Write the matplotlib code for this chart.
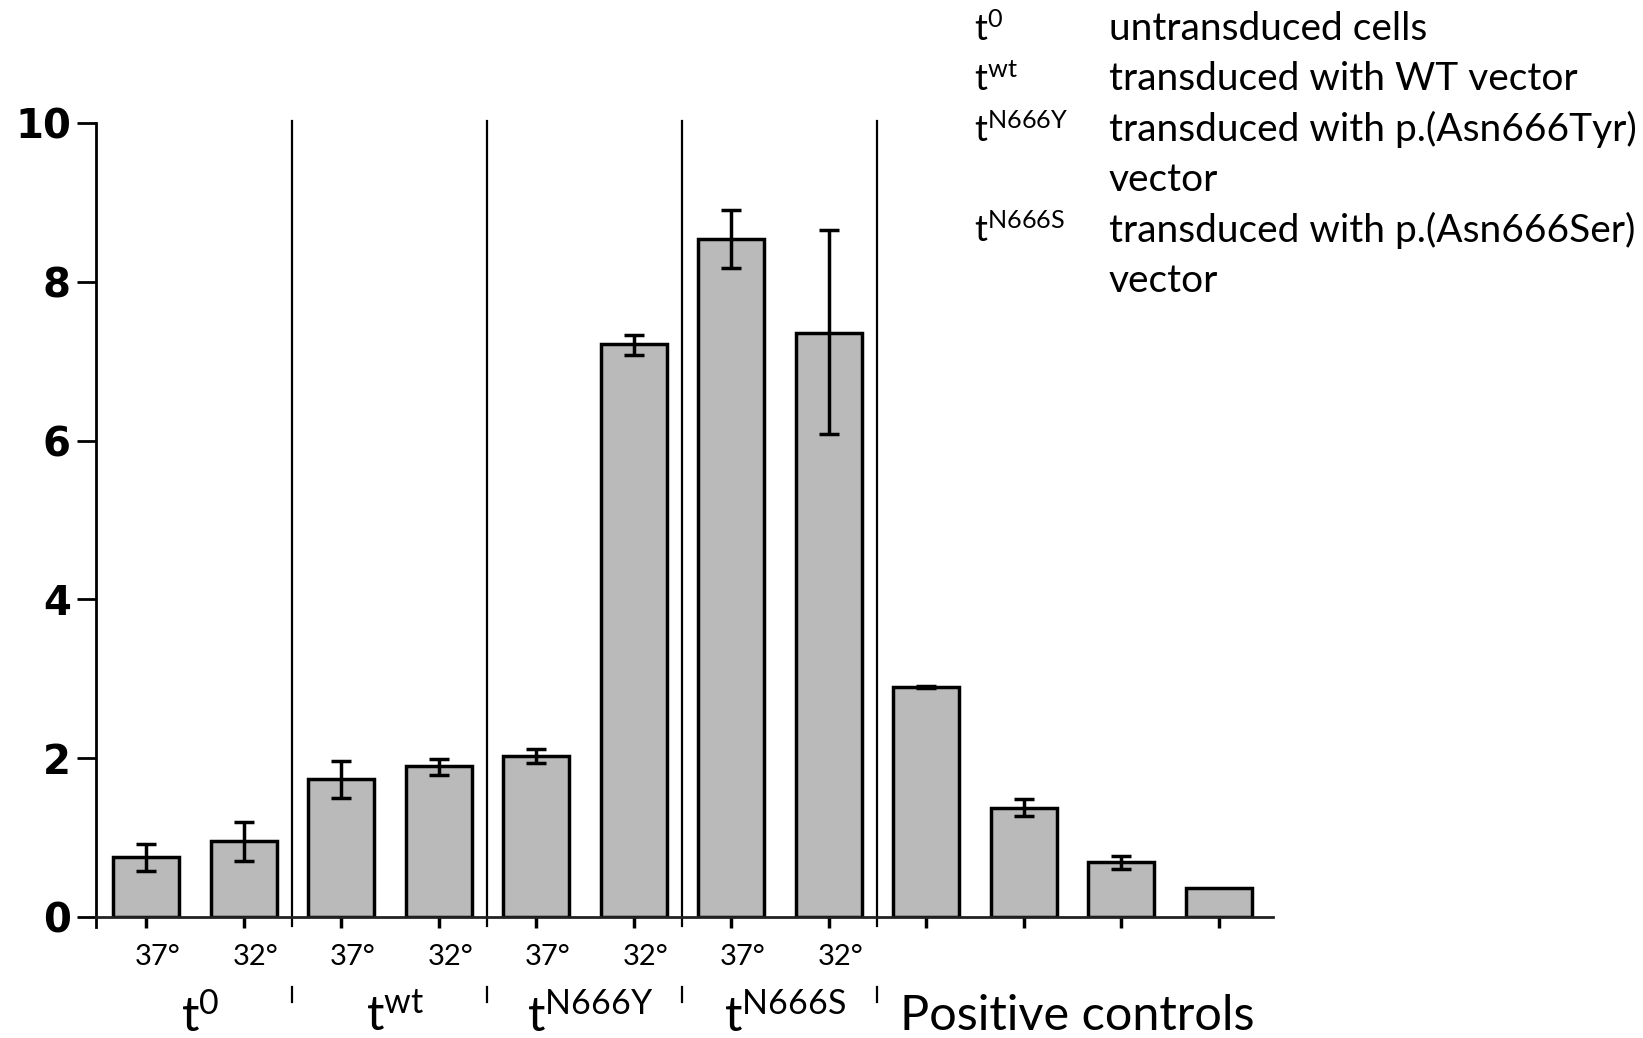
import matplotlib
matplotlib.use("Agg")
import matplotlib.pyplot as plt
import numpy as np

# values
temps = ['37°', '32°', '37°', '32°', '37°', '32°', '37°', '32°', '', '', '', '']
values = [0.75, 0.96, 1.74, 1.90, 2.03, 7.22, 8.54, 7.36, 2.90, 1.37, 0.69, 0.36]
err_lo = [0.17, 0.25, 0.24, 0.11, 0.09, 0.14, 0.36, 1.28, 0.01, 0.10, 0.08, 0.0]
err_hi = [0.17, 0.24, 0.23, 0.09, 0.09, 0.11, 0.36, 1.29, 0.01, 0.11, 0.08, 0.0]
group_labels = ['$\\mathregular{t^{0}}$', '$\\mathregular{t^{wt}}$',
                '$\\mathregular{t^{N666Y}}$', '$\\mathregular{t^{N666S}}$',
                'Positive controls']
group_sizes = [2, 2, 2, 2, 4]
legend_keys = ['$\\mathregular{t^{0}}$', '$\\mathregular{t^{wt}}$',
               '$\\mathregular{t^{N666Y}}$', '', '$\\mathregular{t^{N666S}}$', '']
legend_texts = ['untransduced cells', 'transduced with WT vector',
                'transduced with p.(Asn666Tyr)', 'vector',
                'transduced with p.(Asn666Ser)', 'vector']

plt.rcParams['font.family'] = ['Lato', 'DejaVu Sans']
plt.rcParams['mathtext.fontset'] = 'custom'

fig = plt.figure(figsize=(16.43, 10.38), dpi=100)
ax = fig.add_axes([0.0584, 0.1166, 0.7166, 0.7649])

x = np.arange(len(values))
ax.bar(x, values, width=0.68, color='#b9bab9', edgecolor='black', linewidth=2.5, zorder=2)
mask = np.array(err_hi) > 0
ax.errorbar(x[mask], np.array(values)[mask],
            yerr=[np.array(err_lo)[mask], np.array(err_hi)[mask]],
            fmt='none', ecolor='black', elinewidth=2.5, capsize=7, capthick=2.5, zorder=3)

ax.set_xlim(-0.515, 11.56)
ax.set_ylim(0, 10)
ax.set_yticks([0, 2, 4, 6, 8, 10])
ax.set_yticklabels(['0', '2', '4', '6', '8', '10'], family='DejaVu Sans',
                   fontweight='heavy', fontsize=29)
ax.tick_params(axis='y', length=14, width=2, pad=4)
ax.set_xticks(x)
ax.set_xticklabels([])
ax.tick_params(axis='x', length=8, width=2.5, direction='out', pad=2)
for s in ['top', 'right']:
    ax.spines[s].set_visible(False)
ax.spines['left'].set_linewidth(2)
ax.spines['bottom'].set_linewidth(2)
ax.spines['bottom'].set_color('#222222')

# y-axis stub below zero
ax.plot([-0.515, -0.515], [0, -0.13], color='black', lw=2, clip_on=False)

# group separators
edges = np.cumsum(group_sizes)[:-1] - 0.5
for e in edges:
    ax.plot([e, e], [-0.11, 10.03], color='black', lw=1.6, clip_on=False, zorder=1)
    ax.plot([e, e], [-0.88, -1.07], color='black', lw=1.6, clip_on=False)

# temperature labels
for xi, t in zip(x, temps):
    if t:
        ax.text(xi + 0.12, -0.5, t, ha='center', va='center', fontsize=21)

# group labels
starts = np.concatenate([[0], np.cumsum(group_sizes)[:-1]])
for st, n, lab in zip(starts, group_sizes, group_labels):
    cx = st + (n - 1) / 2 + 0.05
    ax.text(cx, -1.25, lab, ha='center', va='center', fontsize=35)

# legend block at top right
y0 = 0.972
dy = 0.0485
for i, (k, t) in enumerate(zip(legend_keys, legend_texts)):
    yy = y0 - i * dy
    if k:
        fig.text(0.593, yy, k, ha='left', va='center', fontsize=26)
    fig.text(0.675, yy, t, ha='left', va='center', fontsize=28)

fig.savefig('out.png', dpi=100)
